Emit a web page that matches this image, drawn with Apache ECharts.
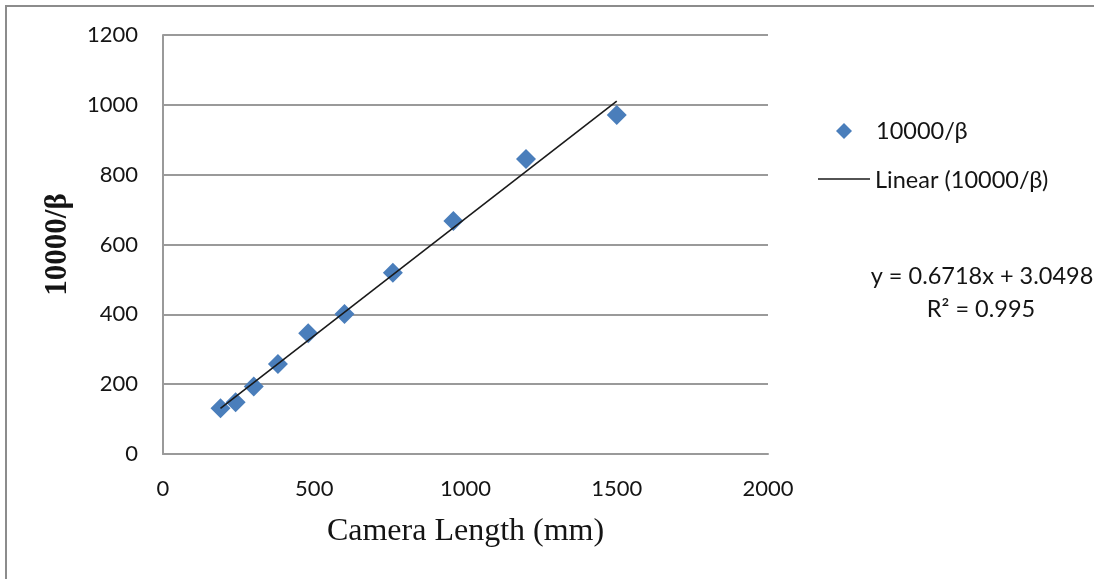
<!DOCTYPE html>
<html>
<head>
<meta charset="utf-8">
<script src="https://cdn.jsdelivr.net/npm/echarts@6/dist/echarts.min.js"></script>
<style>
  html, body { margin: 0; padding: 0; background: #fff; }
  #chart { width: 1094px; height: 579px; }
</style>
</head>
<body>
<div id="chart"></div>
<script>
// Camera length (mm) and measured 10000/β
const cameraLength = [190, 240, 300, 380, 480, 600, 760, 960, 1200, 1500];
const invBeta = [131, 148, 193, 258, 346, 401, 519, 667, 845, 971];

// Linear fit reported on the chart
const fitSlope = 0.6718;
const fitIntercept = 3.0498;
const fitR2 = 0.995;
const fitRange = [190, 1500];

const seriesName = '10000/β';
const trendName = 'Linear (10000/β)';
const xTitle = 'Camera Length (mm)';
const yTitle = '10000/β';

const pointColor = '#4a7ebb';
const gridColor = '#9a9a9a';
const textColor = '#141414';
const labelFont = 'Lato, "Open Sans", sans-serif';
const serifFont = '"Liberation Serif", "DejaVu Serif", serif';

const scatterData = cameraLength.map((x, i) => [x, invBeta[i]]);
const trendData = fitRange.map(x => [x, fitSlope * x + fitIntercept]);

const chart = echarts.init(document.getElementById('chart'), null, { renderer: 'canvas' });

chart.setOption({
  animation: false,
  backgroundColor: '#ffffff',
  grid: { left: 163, top: 35, right: 326, bottom: 125, containLabel: false },
  xAxis: {
    type: 'value',
    min: 0, max: 2000, interval: 500,
    name: xTitle,
    nameLocation: 'middle',
    nameGap: 62,
    nameTextStyle: { fontFamily: serifFont, fontSize: 32, color: textColor },
    axisLine: { show: true, lineStyle: { color: gridColor, width: 2 } },
    axisTick: { show: false },
    splitLine: { show: false },
    axisLabel: {
      margin: 24, fontFamily: labelFont, fontSize: 22, color: textColor,
      formatter: v => String(v)
    }
  },
  yAxis: {
    type: 'value',
    min: 0, max: 1200, interval: 200,
    name: yTitle,
    nameLocation: 'middle',
    nameGap: 90,
    nameRotate: 90,
    nameTextStyle: { fontFamily: serifFont, fontSize: 31, fontWeight: 'bold', color: textColor },
    axisLine: { show: true, lineStyle: { color: gridColor, width: 2 } },
    axisTick: { show: false },
    splitLine: { show: true, lineStyle: { color: gridColor, width: 2 } },
    axisLabel: {
      margin: 25, fontFamily: labelFont, fontSize: 22, color: textColor,
      formatter: v => String(v)
    }
  },
  series: [
    {
      name: seriesName,
      type: 'scatter',
      data: scatterData,
      symbol: 'diamond',
      symbolSize: 20,
      itemStyle: { color: pointColor, opacity: 1 },
      z: 3
    },
    {
      name: trendName,
      type: 'line',
      data: trendData,
      showSymbol: false,
      lineStyle: { color: '#1a1a1a', width: 1.6 },
      z: 4
    }
  ],
  graphic: [
    // outer frame (top and left edges)
    {
      type: 'polyline',
      shape: { points: [[6, 579], [6, 6], [1094, 6]] },
      style: { stroke: '#8c8c8c', lineWidth: 2, fill: null }
    },
    // legend: scatter entry
    {
      type: 'polygon',
      shape: { points: [[844, 123], [852, 131], [844, 139], [836, 131]] },
      style: { fill: pointColor }
    },
    {
      type: 'text',
      x: 876, y: 131,
      style: { text: seriesName, font: '23.5px ' + labelFont, fill: textColor, verticalAlign: 'middle' }
    },
    // legend: trend line entry
    {
      type: 'line',
      shape: { x1: 818, y1: 179, x2: 870, y2: 179 },
      style: { stroke: '#1a1a1a', lineWidth: 1.6 }
    },
    {
      type: 'text',
      x: 875, y: 180,
      style: { text: trendName, font: '23.5px ' + labelFont, fill: textColor, verticalAlign: 'middle' }
    },
    // fit equation
    {
      type: 'text',
      x: 982, y: 276,
      style: {
        text: 'y = ' + fitSlope + 'x + ' + fitIntercept,
        font: '23.5px ' + labelFont, fill: textColor, align: 'center', verticalAlign: 'middle'
      }
    },
    {
      type: 'text',
      x: 981, y: 309,
      style: {
        text: 'R² = ' + fitR2,
        font: '23.5px ' + labelFont, fill: textColor, align: 'center', verticalAlign: 'middle'
      }
    }
  ]
});
</script>
</body>
</html>
